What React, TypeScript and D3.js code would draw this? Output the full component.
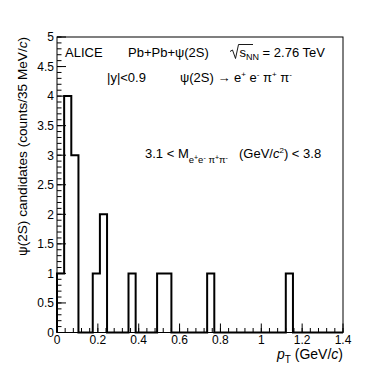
import React from 'react';
import * as d3 from 'd3';

// histogram: psi(2S) candidates per 35 MeV/c bin, pT from 0 to 1.4 GeV/c
const binWidth = 0.035;
const counts = [
  1, 4, 3, 0, 0, 1, 2, 0, 0, 0,
  1, 0, 0, 0, 1, 1, 0, 0, 0, 0,
  0, 1, 0, 0, 0, 0, 0, 0, 0, 0,
  0, 0, 1, 0, 0, 0, 0, 0, 0, 0,
];
const xMajorTicks = [0, 0.2, 0.4, 0.6, 0.8, 1, 1.2, 1.4];
const xTickLabels = ['0', '0.2', '0.4', '0.6', '0.8', '1', '1.2', '1.4'];
const yMajorTicks = [0, 0.5, 1, 1.5, 2, 2.5, 3, 3.5, 4, 4.5, 5];
const yTickLabels = ['0', '0.5', '1', '1.5', '2', '2.5', '3', '3.5', '4', '4.5', '5'];

const W = 382;
const H = 370;
const margin = { top: 37, right: 39, bottom: 37.5, left: 57 };
const font = '"Liberation Sans", Arial, Helvetica, sans-serif';

export default function App() {
  const x = d3.scaleLinear().domain([0, 1.4]).range([margin.left, W - margin.right]);
  const y = d3.scaleLinear().domain([0, 5]).range([H - margin.bottom, margin.top]);

  // step outline like ROOT's default histogram drawing
  let d = `M${x(0)},${y(0)}`;
  counts.forEach((c, i) => {
    d += `V${y(c)}H${x((i + 1) * binWidth)}`;
  });
  d += `V${y(0)}`;

  const xMinor = d3.range(0, 1.4001, 0.04);
  const yMinor = d3.range(0, 5.0001, 0.1);
  const majorLen = 9;
  const minorLen = 4.5;

  return (
    <svg width={W} height={H} style={{ position: 'absolute', left: 0, top: 0, background: '#fff' }} fontFamily={font}>
      <rect x={0} y={0} width={W} height={H} fill="#fff" />

      {/* ticks */}
      {xMinor.map((t, i) => (
        <line key={'xm' + i} x1={x(t)} x2={x(t)} y1={y(0)} y2={y(0) - minorLen} stroke="#000" strokeWidth={1} />
      ))}
      {xMajorTicks.map((t, i) => (
        <line key={'xM' + i} x1={x(t)} x2={x(t)} y1={y(0)} y2={y(0) - majorLen} stroke="#000" strokeWidth={1} />
      ))}
      {yMinor.map((t, i) => (
        <line key={'ym' + i} x1={x(0)} x2={x(0) + minorLen} y1={y(t)} y2={y(t)} stroke="#000" strokeWidth={1} />
      ))}
      {yMajorTicks.map((t, i) => (
        <line key={'yM' + i} x1={x(0)} x2={x(0) + majorLen} y1={y(t)} y2={y(t)} stroke="#000" strokeWidth={1} />
      ))}

      {/* frame */}
      <rect x={x(0)} y={y(5)} width={x(1.4) - x(0)} height={y(0) - y(5)} fill="none" stroke="#000" strokeWidth={1} />

      {/* histogram */}
      <path d={d} fill="none" stroke="#000" strokeWidth={2} strokeLinejoin="miter" />

      {/* tick labels */}
      {xMajorTicks.map((t, i) => (
        <text key={'xl' + i} x={x(t)} y={y(0) + 11.5} fontSize={12} textAnchor="middle">{xTickLabels[i]}</text>
      ))}
      {yMajorTicks.map((t, i) => (
        <text key={'yl' + i} x={x(0) - 3} y={y(t) + 4.3} fontSize={12} textAnchor="end">{yTickLabels[i]}</text>
      ))}

      {/* axis titles */}
      <text x={x(1.4)} y={358.5} fontSize={14} textAnchor="end">
        <tspan fontStyle="italic">p</tspan>
        <tspan dy={4} fontSize={10}>T</tspan>
        <tspan dy={-4}> (GeV/</tspan>
        <tspan fontStyle="italic">c</tspan>
        <tspan>)</tspan>
      </text>
      <text transform={`translate(27,${y(5)}) rotate(-90)`} fontSize={13.6} textAnchor="end">
        ψ(2S) candidates (counts/35 MeV/<tspan fontStyle="italic">c</tspan>)
      </text>

      {/* labels */}
      <g fontSize={13}>
        <text x={65} y={57}>ALICE</text>
        <text x={128} y={57}>Pb+Pb+ψ(2S)</text>
        <path d="M230,51.5 L232.5,50 L235.5,58.5 L238.5,44.5 H253" fill="none" stroke="#000" strokeWidth={0.9} />
        <text x={239.5} y={57}>
          s<tspan dy={3} fontSize={9}>NN</tspan>
          <tspan dy={-3}> = 2.76 TeV</tspan>
        </text>
        <text x={107} y={82}>|y|&lt;0.9</text>
        <text x={180} y={82}>
          ψ(2S) → e<tspan dy={-5} fontSize={8}>+</tspan>
          <tspan dy={5}> e</tspan>
          <tspan dy={-5} fontSize={8}>-</tspan>
          <tspan dy={5}> π</tspan>
          <tspan dy={-5} fontSize={8}>+</tspan>
          <tspan dy={5}> π</tspan>
          <tspan dy={-5} fontSize={8}>-</tspan>
        </text>
        <text x={145} y={158}>
          3.1 &lt; M
          <tspan dy={5} fontSize={9.5}>e</tspan>
          <tspan dy={-3.5} fontSize={7}>+</tspan>
          <tspan dy={3.5} fontSize={9.5}>e</tspan>
          <tspan dy={-3.5} fontSize={7}>-</tspan>
          <tspan dy={3.5} fontSize={9.5}> π</tspan>
          <tspan dy={-3.5} fontSize={7}>+</tspan>
          <tspan dy={3.5} fontSize={9.5}>π</tspan>
          <tspan dy={-3.5} fontSize={7}>-</tspan>
          <tspan x={239} y={158}>(GeV/</tspan>
          <tspan fontStyle="italic">c</tspan>
          <tspan dy={-5} fontSize={8}>2</tspan>
          <tspan dy={5}>) &lt; 3.8</tspan>
        </text>
      </g>
    </svg>
  );
}
